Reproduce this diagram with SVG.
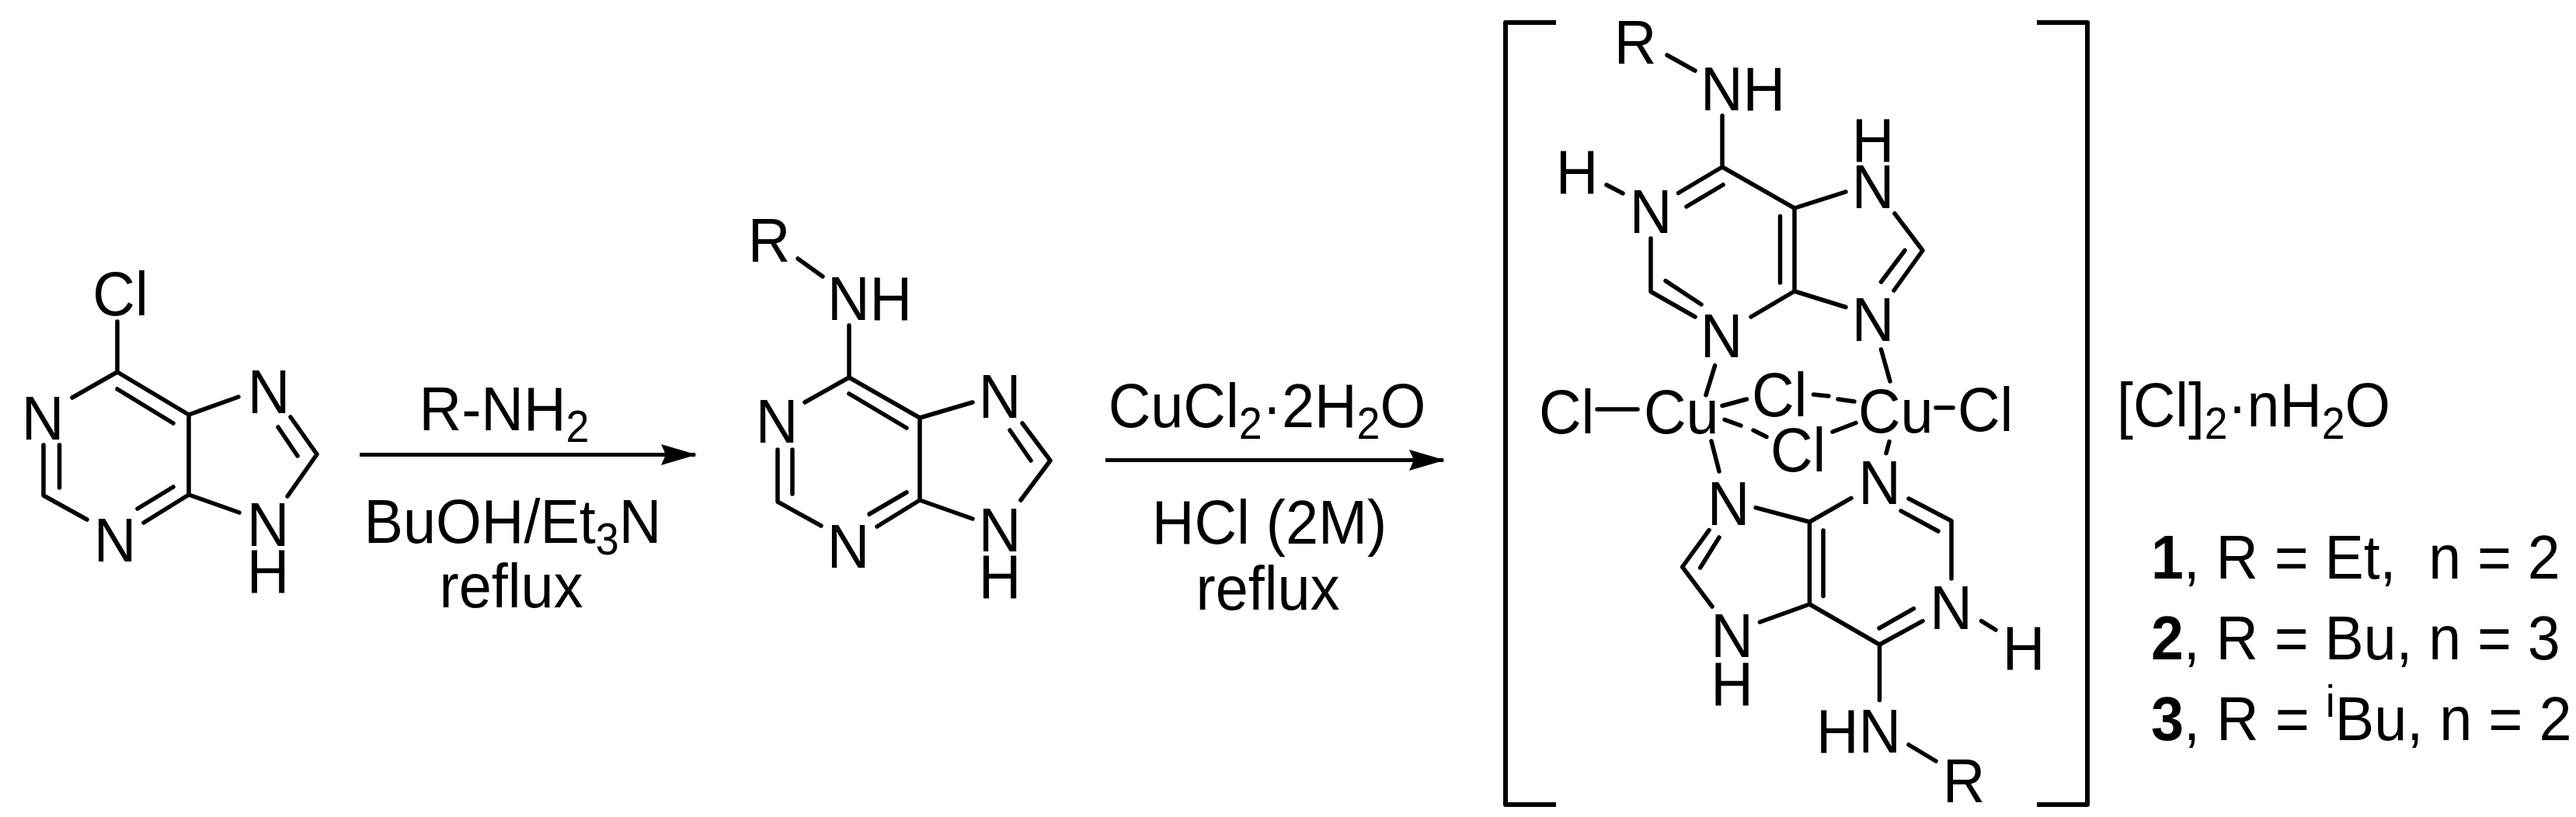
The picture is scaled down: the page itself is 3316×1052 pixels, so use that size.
<svg xmlns="http://www.w3.org/2000/svg" width="3316" height="1052" viewBox="0 0 3316 1052">
<style>
text{font-family:"Liberation Sans",Arial,sans-serif;font-size:80px;fill:#000;white-space:pre}
.m{text-anchor:middle}
.s{font-size:57px}
.b{font-weight:bold}
.bond{fill:none;stroke:#000;stroke-width:5.500;stroke-linecap:round;stroke-linejoin:round}
.arrow{fill:none;stroke:#000;stroke-width:5}
.br{fill:none;stroke:#000;stroke-width:6;stroke-linejoin:round}
</style>
<defs>
<marker id="head" markerUnits="userSpaceOnUse" markerWidth="50" markerHeight="30" refX="44" refY="13.500" orient="auto">
<path d="M0,0L46,13.500L0,27L6,13.500Z" fill="#000"/>
</marker>
</defs>
<rect width="3316" height="1052" fill="#fff"/>
<g id="chloropurine">
<path class="bond" d="M151,414V479L93,512M151,479L243,534V637L308,660M243,534L307,511M151,501L223,545M374,537L408,585L370,639M358,550L383,587M243,637L185,673M177,655L223,627M112,669L56,638V573M76.500,573V628"/>
<text class="m" transform="translate(155 406) scale(.945 1)">Cl</text>
<text class="m" transform="translate(55 566) scale(.945 1)">N</text>
<text class="m" transform="translate(346 532) scale(.945 1)">N</text>
<text class="m" transform="translate(148 723) scale(.945 1)">N</text>
<text class="m" transform="translate(345 703) scale(.945 1)">N</text>
<text class="m" transform="translate(345 763) scale(.945 1)">H</text>
</g>
<g id="aminopurine">
<path class="bond" d="M1027,333L1059,356M1093,419V486L1036,518M1093,486L1184,538V644L1252,668M1184,538L1252,518M1093,507L1167,551M1316,545L1352,593L1314,644M1300,554L1327,593M1184,644L1129,678M1119,662L1167,634M1057,677L1001,646V579M1020,579V636"/>
<text class="m" transform="translate(990 337) scale(.945 1)">R</text>
<text transform="translate(1065 412) scale(.945 1)">NH</text>
<text class="m" transform="translate(1000 570) scale(.945 1)">N</text>
<text class="m" transform="translate(1287 538) scale(.945 1)">N</text>
<text class="m" transform="translate(1092 731) scale(.945 1)">N</text>
<text class="m" transform="translate(1287 710) scale(.945 1)">N</text>
<text class="m" transform="translate(1287 770) scale(.945 1)">H</text>
</g>
<g id="complex">
<path class="br" d="M2003,29H1938V1036H2003M2622,29H2687V1036H2622"/>
<path class="bond" d="M2146,71L2182,91M2217,149V215L2310,268V375L2376,395.500M2310,268L2376,247M2439,275L2475,322.500L2438,374M2452,322.500L2421.500,363M2310,375L2254,408M2182,408L2125,375.500V307M2144,361.600L2190,392M2068,238L2089,249M2160.500,248.500L2217,215M2171,266L2218,238M2291.500,278.500V364M2421.500,450L2433,491M2207.600,470.600L2196,508.600"/>
<path class="bond" d="M2056,527H2108M2492,525H2514M2217,522.500L2248.500,514M2334.500,508L2354,510M2366,514L2387,517M2220,540.400L2241,548M2257,554L2274,562.500M2359,556L2389,544.500M2203,568L2213,607M2432,568.600L2428,583.600"/>
<path class="bond" d="M2260,653.700L2329.400,672V778L2265.500,801M2329.400,672L2383,641.400M2457,642L2512,670.700V745M2447,657.800L2495,684M2550.500,799.600L2569,811M2475,799.600L2419.500,830L2329.400,778M2419,809L2463.500,783.600M2419.500,830V901.600M2457,959L2492,980M2347,683V767.600M2200,682.600L2165.600,730L2204,781M2213,692L2188.700,731"/>
<text class="m" transform="translate(2105 82) scale(.945 1)">R</text>
<text transform="translate(2189 142) scale(.945 1)">NH</text>
<text class="m" transform="translate(2030 248.500) scale(.945 1)">H</text>
<text class="m" transform="translate(2125 300) scale(.945 1)">N</text>
<text class="m" transform="translate(2411 208) scale(.945 1)">H</text>
<text class="m" transform="translate(2411 268) scale(.945 1)">N</text>
<text class="m" transform="translate(2411 439) scale(.945 1)">N</text>
<text class="m" transform="translate(2216 459.500) scale(.945 1)">N</text>
<text transform="translate(1981 558) scale(.945 1)">Cl</text>
<text transform="translate(2116 558) scale(.945 1)">Cu</text>
<text transform="translate(2255 536) scale(.945 1)">Cl</text>
<text transform="translate(2392 557) scale(.945 1)">Cu</text>
<text transform="translate(2520 555) scale(.945 1)">Cl</text>
<text transform="translate(2279 607) scale(.945 1)">Cl</text>
<text class="m" transform="translate(2225 676) scale(.945 1)">N</text>
<text class="m" transform="translate(2419.500 649) scale(.945 1)">N</text>
<text class="m" transform="translate(2511.500 810) scale(.945 1)">N</text>
<text class="m" transform="translate(2605 862) scale(.945 1)">H</text>
<text class="m" transform="translate(2229.500 846) scale(.945 1)">N</text>
<text class="m" transform="translate(2229.500 908) scale(.945 1)">H</text>
<text transform="translate(2338 969) scale(.945 1)">HN</text>
<text class="m" transform="translate(2528 1033) scale(.945 1)">R</text>
</g>
<g id="conditions-1">
<text class="m" transform="translate(649 554) scale(.945 1)">R-NH<tspan class="s" dy="15">2</tspan></text>
<text class="m" transform="translate(660 699) scale(.945 1)">BuOH/Et<tspan class="s" dy="15">3</tspan><tspan dy="-15">N</tspan></text>
<text class="m" transform="translate(658 782) scale(.945 1)">reflux</text>
</g>
<g id="conditions-2">
<text class="m" transform="translate(1631 550) scale(.945 1)">CuCl<tspan class="s" dy="15">2</tspan><tspan dy="-15">·2H</tspan><tspan class="s" dy="15">2</tspan><tspan dy="-15">O</tspan></text>
<text class="m" transform="translate(1634 700) scale(.945 1)">HCl (2M)</text>
<text class="m" transform="translate(1632 785) scale(.945 1)">reflux</text>
</g>
<g id="counterion">
<text transform="translate(2725 549) scale(.94 1)">[Cl]<tspan class="s" dy="16">2</tspan><tspan dy="-16">·nH</tspan><tspan class="s" dy="16">2</tspan><tspan dy="-16">O</tspan></text>
</g>
<g id="legend">
<text transform="translate(2769 745) scale(.94 1)"><tspan class="b">1</tspan>, R = Et,  n = 2</text>
<text transform="translate(2769 849) scale(.94 1)"><tspan class="b">2</tspan>, R = Bu, n = 3</text>
<text transform="translate(2769 953) scale(.945 1)"><tspan class="b">3</tspan>, R = <tspan class="s" dy="-30">i</tspan><tspan dy="30">Bu, n = 2</tspan></text>
</g>
<g id="connectors">
<line class="arrow" x1="463" y1="585.500" x2="895" y2="585.500" marker-end="url(#head)"/>
<line class="arrow" x1="1423" y1="592.500" x2="1858" y2="592.500" marker-end="url(#head)"/>
</g>
</svg>
